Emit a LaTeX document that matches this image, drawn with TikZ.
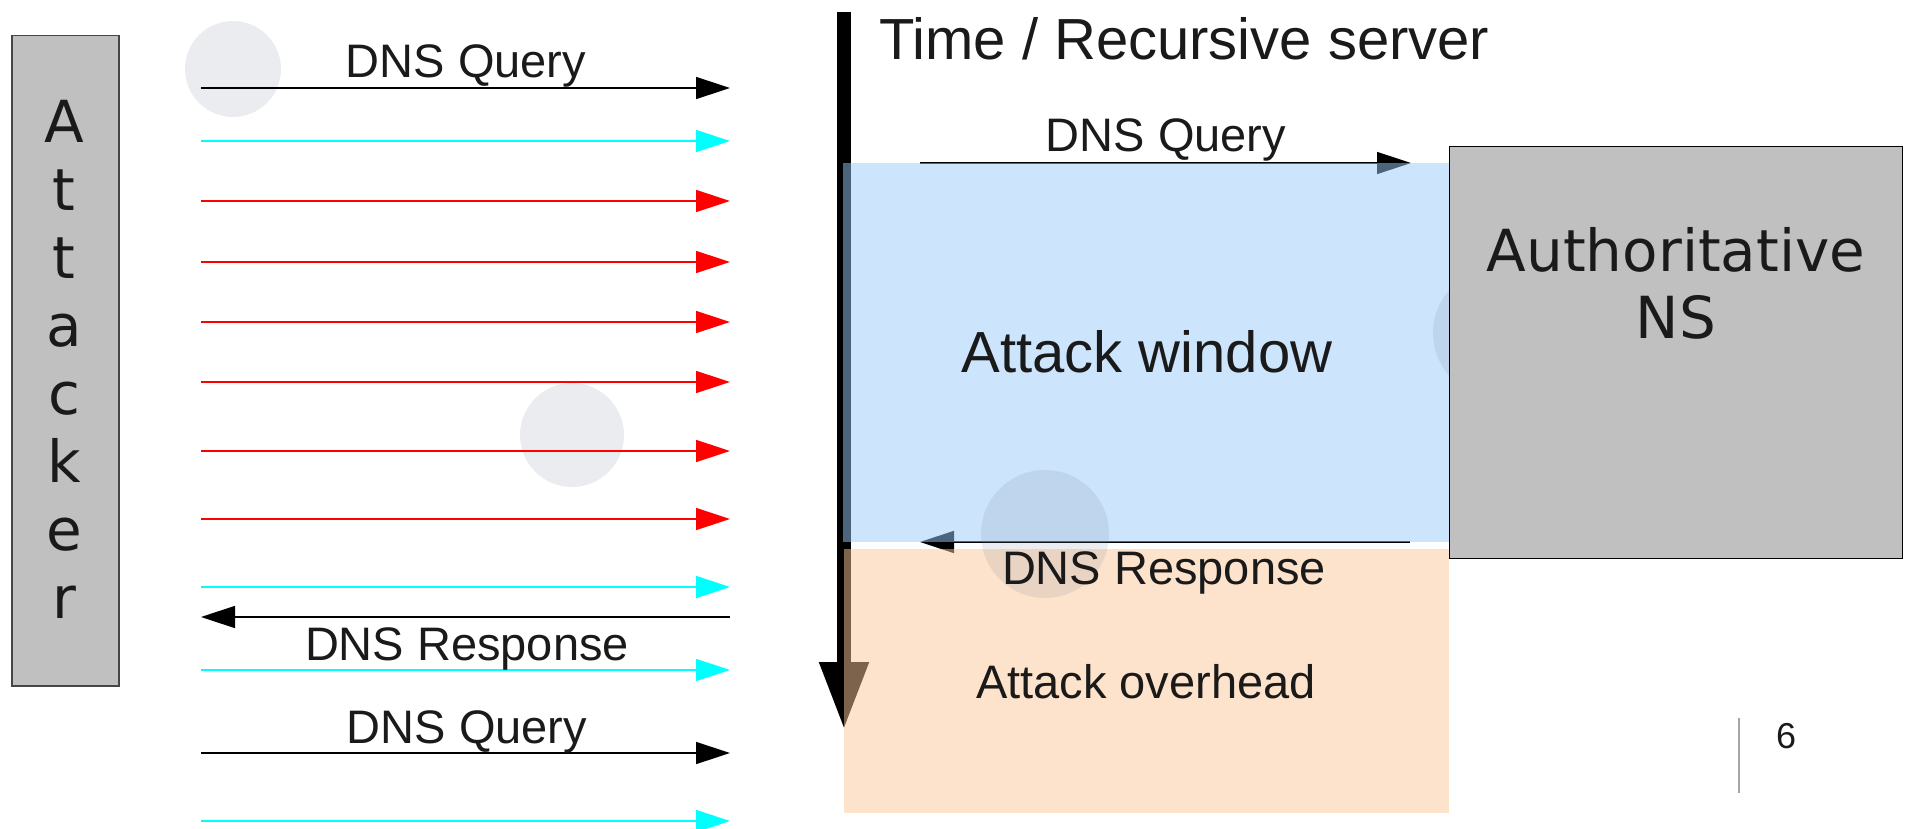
\documentclass[tikz,border=0pt]{standalone}
\usepackage{fontspec}
\setmainfont{Liberation Sans}
\newfontfamily\dejavu{DejaVu Sans}
\usetikzlibrary{arrows.meta}

\definecolor{boxgray}{RGB}{192,192,192}
\definecolor{edgegray}{RGB}{70,70,70}
\definecolor{winblue}{RGB}{153,201,249}
\definecolor{overorange}{RGB}{251,199,153}
\definecolor{txt}{RGB}{26,26,26}
\definecolor{spotc}{RGB}{120,130,150}
\definecolor{pagerule}{RGB}{165,165,165}
\definecolor{pktcyan}{RGB}{0,255,255}
\definecolor{pktred}{RGB}{255,0,0}
\definecolor{pktblack}{RGB}{0,0,0}

\tikzset{
  msg/.style={line width=1.5pt, -{Triangle[length=34pt,width=22pt]}},
  lbl/.style={anchor=base, inner sep=0pt, text=txt, font=\fontsize{47}{56}\selectfont},
  biglbl/.style={anchor=base, inner sep=0pt, text=txt, font=\fontsize{58}{68}\selectfont},
  attl/.style={anchor=base, inner sep=0pt, text=txt, font=\dejavu\fontsize{58}{68}\selectfont},
  spot/.style={fill=spotc, fill opacity=0.15},
  panel/.style={draw=none, fill opacity=0.5},
}

\begin{document}
\begin{tikzpicture}[x=1pt, y=-1pt]
\useasboundingbox (0,0) rectangle (1909,829);

% Attacker column
\node[draw=edgegray, line width=1.5pt, fill=boxgray, anchor=north west,
      minimum width=107pt, minimum height=650pt, inner sep=0pt] (attacker) at (11,35) {};
\foreach \ch [count=\i from 0] in {A,t,t,a,c,k,e,r}
  \node[attl] (att\i) at (64,142.5+68*\i) {\ch};

% faint spots
\fill[spot] (233,69) circle (48);
\fill[spot] (572,435) circle (52);

% packets sent by the attacker
\foreach \y/\c [count=\i] in {88/pktblack,141/pktcyan,201/pktred,262/pktred,322/pktred,382/pktred,451/pktred,519/pktred,587/pktcyan,670/pktcyan,753/pktblack,821/pktcyan}{
  \coordinate (ps\i) at (201,\y);
  \coordinate (pe\i) at (730,\y);
  \draw[msg, draw=\c, fill=\c] (ps\i) -- (pe\i);
}
% response back to the attacker
\coordinate (rs) at (730,617);
\coordinate (re) at (201,617);
\draw[msg] (rs) -- (re);

\node[lbl] (q1) at (466,78) {DNS Query};
\node[lbl] (r1) at (467,660) {DNS Response};
\node[lbl] (q2) at (467,743) {DNS Query};

% time axis of the recursive server
\coordinate (t0) at (844,12);
\coordinate (t1) at (844,730);
\draw[line width=14pt, -{Triangle[length=68pt,width=46pt]}] (t0) -- (t1);
\node[biglbl, anchor=base west] (title) at (879,60) {Time / Recursive server};

% exchange with the authoritative server
\coordinate (qs) at (920,163);
\coordinate (qe) at (1411,163);
\draw[msg] (qs) -- (qe);
\coordinate (as) at (1410,542);
\coordinate (ae) at (920,542);
\draw[msg] (as) -- (ae);

% attack window and overhead
\fill[panel, winblue] (843,163) rectangle (1450,542);
\fill[panel, overorange] (844,549) rectangle (1449,813);

\fill[spot] (1045,534) circle (64);
\fill[spot] (1497,333) circle (64);

% authoritative name server
\node[draw=black, line width=1pt, fill=boxgray, anchor=north west,
      minimum width=453pt, minimum height=412pt, inner sep=0pt] (auth) at (1449,146) {};
\node[attl] (authA) at (1676,272) {Authoritative};
\node[attl] (authB) at (1676,338) {NS};

\node[lbl] (q3) at (1166,152) {DNS Query};
\node[lbl] (r3) at (1164,584) {DNS Response};
\node[biglbl] (win) at (1147,372) {Attack window};
\node[lbl] (ovh) at (1146,698) {Attack overhead};

% page number
\coordinate (pr0) at (1739,718);
\coordinate (pr1) at (1739,793);
\draw[pagerule, line width=1.5pt] (pr0) -- (pr1);
\node[anchor=base west, inner sep=0pt, text=txt, font=\fontsize{36}{43}\selectfont] (pnum) at (1776,748) {6};
\end{tikzpicture}
\end{document}
